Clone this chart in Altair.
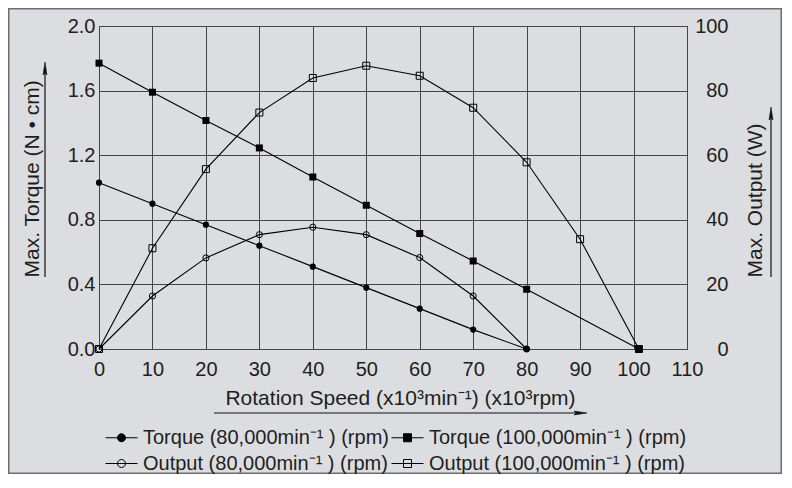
import altair as alt
import pandas as pd

FONT = "Liberation Sans"
TXT = "#1e1e1e"
GRID = "#454545"
BG = "#dcdde0"

S_T80 = "Torque (80,000min⁻¹ ) (rpm)"
S_T100 = "Torque (100,000min⁻¹ ) (rpm)"
S_O80 = "Output (80,000min⁻¹ ) (rpm)"
S_O100 = "Output (100,000min⁻¹ ) (rpm)"
SERIES_ORDER = [S_T80, S_T100, S_O80, S_O100]

# data
speed_80 = [0, 10, 20, 30, 40, 50, 60, 70, 80]
torque_80 = [1.03, 0.90, 0.77, 0.64, 0.51, 0.38, 0.25, 0.12, 0.0]
output_80 = [0, 16.4, 28.2, 35.4, 37.7, 35.4, 28.3, 16.4, 0]
speed_t100 = [0, 10, 20, 30, 40, 50, 60, 70, 80, 101]
torque_100 = [1.77, 1.59, 1.415, 1.245, 1.065, 0.89, 0.715, 0.545, 0.37, 0.0]
speed_o100 = [0, 10, 20, 30, 40, 50, 60, 70, 80, 90, 101]
output_100 = [0, 31.2, 55.7, 73.2, 83.9, 87.7, 84.6, 74.7, 57.8, 34.0, 0]

x_ticks = [0, 10, 20, 30, 40, 50, 60, 70, 80, 90, 100, 110]
torque_ticks = [0.0, 0.4, 0.8, 1.2, 1.6, 2.0]
output_ticks = [0, 20, 40, 60, 80, 100]

X_TITLE = "Rotation Speed (x10³min⁻¹) (x10³rpm)"
YL_TITLE = "Max. Torque (N • cm)"
YR_TITLE = "Max. Output (W)"


def frame(speeds, values, series):
    return pd.DataFrame({"speed": speeds, "value": values, "series": series})


df_torque = pd.concat([frame(speed_80, torque_80, S_T80),
                       frame(speed_t100, torque_100, S_T100)], ignore_index=True)
df_output = pd.concat([frame(speed_80, output_80, S_O80),
                       frame(speed_o100, output_100, S_O100)], ignore_index=True)

x_enc = alt.X("speed:Q",
              scale=alt.Scale(domain=[0, 110], nice=False, zero=False),
              axis=alt.Axis(values=x_ticks, format="d", title=X_TITLE, grid=True,
                            ticks=False, tickSize=0, labelPadding=10,
                            labelFlush=False, labelOverlap=False,
                            titleX=301, titleY=49, titleAlign="center",
                            titleBaseline="middle", titleFontSize=21))

y_left = alt.Y("value:Q",
               scale=alt.Scale(domain=[0, 2], nice=False),
               axis=alt.Axis(values=torque_ticks, format=".1f", title=YL_TITLE,
                             grid=True, ticks=False, tickSize=0, labelPadding=4,
                             labelFlush=False, labelOverlap=False,
                             titleAngle=270, titleX=-67, titleY=251,
                             titleAlign="left", titleBaseline="middle",
                             titleFontSize=21))

y_right = alt.Y("value:Q",
                scale=alt.Scale(domain=[0, 100], nice=False),
                axis=alt.Axis(orient="right", values=output_ticks, format="d",
                              title=YR_TITLE, grid=False, ticks=False, tickSize=0,
                              labelAlign="right", labelPadding=41,
                              labelFlush=False, labelOverlap=False,
                              titleAngle=270, titleX=68, titleY=251,
                              titleAlign="left", titleBaseline="middle",
                              titleFontSize=21))

# legend symbols: line with marker
LINE = "M-1.6,0H1.6"
CIRC = "M0.4,0A0.4,0.4,0,1,1,-0.4,0A0.4,0.4,0,1,1,0.4,0Z"
SQR = "M-0.4,-0.4H0.4V0.4H-0.4Z"
LEGEND_PATHS = [LINE + CIRC, LINE + SQR, LINE + CIRC, LINE + SQR]
LEGEND_FILLS = ["black", "black", "transparent", "transparent"]

legend_def = alt.Legend(title=None, orient="none", legendX=12, legendY=401,
                        direction="horizontal",
                        columns=2, columnPadding=0, rowPadding=5, padding=0,
                        symbolSize=400, symbolStrokeWidth=1, symbolOpacity=1,
                        labelOffset=11, labelFontSize=20, labelFont=FONT,
                        labelColor=TXT, labelLimit=500)

t_base = alt.Chart(df_torque)
o_base = alt.Chart(df_output)

lines_t = t_base.mark_line(color="black", strokeWidth=1.1).encode(
    x=x_enc, y=y_left, detail="series:N")
pts_t80 = t_base.transform_filter(alt.datum.series == S_T80).mark_point(
    shape="circle", filled=True, color="black", size=38, opacity=1).encode(x=x_enc, y=y_left)
pts_t100 = t_base.transform_filter(alt.datum.series == S_T100).mark_point(
    shape="square", filled=True, color="black", size=49, opacity=1).encode(x=x_enc, y=y_left)

legend_layer = t_base.mark_point(filled=True, stroke="black", strokeWidth=1, opacity=0).encode(
    x=x_enc, y=y_left,
    shape=alt.Shape("series:N", scale=alt.Scale(domain=SERIES_ORDER, range=LEGEND_PATHS),
                    legend=legend_def),
    fill=alt.Fill("series:N", scale=alt.Scale(domain=SERIES_ORDER, range=LEGEND_FILLS),
                  legend=legend_def))

lines_o = o_base.mark_line(color="black", strokeWidth=1.1).encode(
    x=x_enc, y=y_right, detail="series:N")
pts_o80 = o_base.transform_filter(alt.datum.series == S_O80).mark_point(
    shape="circle", filled=False, stroke="black", strokeWidth=1, size=38, opacity=1).encode(x=x_enc, y=y_right)
pts_o100 = o_base.transform_filter(alt.datum.series == S_O100).mark_point(
    shape="square", filled=False, stroke="black", strokeWidth=1, size=49, opacity=1).encode(x=x_enc, y=y_right)

# decorations (arrows and outer border)
one = alt.Data(values=[{"k": 0}])


def rule(x1, y1, x2, y2):
    return alt.Chart(one).mark_rule(color="#111111", strokeWidth=1.2).encode(
        x=alt.value(x1), y=alt.value(y1), x2=alt.value(x2), y2=alt.value(y2))


def head(x, y, path):
    return alt.Chart(one).mark_point(shape=path, filled=True, fill="#111111",
                                     stroke="#111111", strokeWidth=0.6,
                                     size=169, opacity=1).encode(
        x=alt.value(x), y=alt.value(y))


UP = "M0,-1L0.3,1L0,0.7L-0.3,1Z"
RIGHT = "M1,0L-1,0.3L-0.7,0L-1,-0.3Z"

deco = [
    rule(-54, 251, -54, 43), head(-54, 42.5, UP),
    rule(672, 251, 672, 88), head(672, 87.5, UP),
    rule(115, 387, 481, 387), head(481.5, 387, RIGHT),
]

border = alt.Chart(one).mark_rect(fillOpacity=0, stroke="#6e6e6e", strokeWidth=1.5).encode(
    x=alt.value(-90.25), x2=alt.value(682.25), y=alt.value(-17.25), y2=alt.value(447.25))

left = alt.layer(border, lines_t, pts_t80, pts_t100, legend_layer, *deco)
right = alt.layer(lines_o, pts_o80, pts_o100)

chart = alt.layer(left, right).resolve_scale(y="independent").properties(
    width=588, height=323,
    autosize=alt.AutoSizeParams(type="none"),
    padding={"left": 91, "top": 18, "right": 95, "bottom": 125},
    background=BG,
).configure_view(stroke=GRID, strokeWidth=1).configure_axis(
    labelFont=FONT, labelFontSize=20, labelColor=TXT,
    titleFont=FONT, titleColor=TXT, titleFontWeight="normal",
    gridColor=GRID, gridWidth=1, gridOpacity=1,
    domainColor=GRID, domainWidth=1,
)

chart.save("out.html", embed_options={"renderer": "svg", "actions": False})
